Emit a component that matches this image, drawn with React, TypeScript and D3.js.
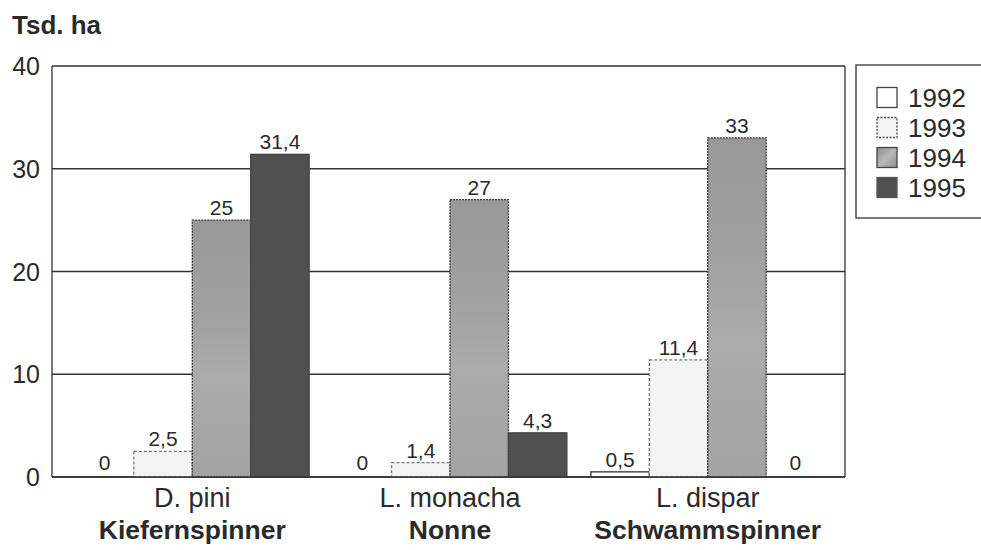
import React from "react";
import * as d3 from "d3";

const categories = ["D. pini", "L. monacha", "L. dispar"];
const commonNames = ["Kiefernspinner", "Nonne", "Schwammspinner"];
const years = ["1992", "1993", "1994", "1995"];
const values1992 = [0, 0, 0.5];
const values1993 = [2.5, 1.4, 11.4];
const values1994 = [25, 27, 33];
const values1995 = [31.4, 4.3, 0];
const labels1992 = ["0", "0", "0,5"];
const labels1993 = ["2,5", "1,4", "11,4"];
const labels1994 = ["25", "27", "33"];
const labels1995 = ["31,4", "4,3", "0"];
const yTicks = [0, 10, 20, 30, 40];
const yTitle = "Tsd. ha";

const W = 981;
const H = 550;
const FONT = "Arial, 'Liberation Sans', Helvetica, sans-serif";

export default function App() {
  const plot = { left: 52, right: 845, top: 66, bottom: 477 };
  const y = d3.scaleLinear().domain([0, 40]).range([plot.bottom, plot.top]);
  const x0 = d3
    .scaleBand<string>()
    .domain(categories)
    .range([54, 846])
    .paddingInner(0.093)
    .paddingOuter(0.083);
  const x1 = d3.scaleBand<string>().domain(years).range([0, x0.bandwidth()]);

  const series = [values1992, values1993, values1994, values1995];
  const labels = [labels1992, labels1993, labels1994, labels1995];

  const fills = ["#ffffff", "#f3f3f3", "url(#g1994)", "#505050"];
  const strokes = ["#333", "#777", "#3a3a3a", "#444"];
  const dashes = [undefined, "3 2", "2 1", undefined];

  return (
    <svg
      width={W}
      height={H}
      style={{ position: "absolute", left: 0, top: 0, background: "#fff" }}
      fontFamily={FONT}
    >
      <defs>
        <linearGradient id="g1994" x1="0" y1="0" x2="0" y2="1">
          <stop offset="0%" stopColor="#989898" />
          <stop offset="40%" stopColor="#a2a2a2" />
          <stop offset="60%" stopColor="#ababab" />
          <stop offset="100%" stopColor="#a3a3a3" />
        </linearGradient>
        <linearGradient id="g1994l" x1="0" y1="0" x2="1" y2="1">
          <stop offset="0%" stopColor="#8a8a8a" />
          <stop offset="50%" stopColor="#b8b8b8" />
          <stop offset="100%" stopColor="#909090" />
        </linearGradient>
      </defs>
      <rect x={0} y={0} width={W} height={H} fill="#fff" />

      <text x={12} y={34} fontSize={26} fontWeight="bold" fill="#2a2a2a">
        {yTitle}
      </text>

      {yTicks.map((t) => (
        <line
          key={"g" + t}
          x1={plot.left}
          x2={plot.right}
          y1={y(t)}
          y2={y(t)}
          stroke="#333"
          strokeWidth={1.3}
        />
      ))}
      <line x1={plot.left} x2={plot.left} y1={plot.top} y2={plot.bottom} stroke="#333" strokeWidth={1.3} />
      <line x1={plot.right} x2={plot.right} y1={plot.top} y2={plot.bottom} stroke="#333" strokeWidth={1.3} />

      {yTicks.map((t) => (
        <text
          key={"t" + t}
          x={40}
          y={y(t)}
          textAnchor="end"
          dominantBaseline="central"
          fontSize={25}
          fill="#2a2a2a"
        >
          {t}
        </text>
      ))}

      {categories.map((c, ci) => (
        <g key={c} transform={`translate(${x0(c)},0)`}>
          {years.map((yr, si) => {
            const v = series[si][ci];
            const bx = x1(yr)!;
            const bw = x1.bandwidth();
            const top = y(v);
            return (
              <g key={yr}>
                {v > 0 && (
                  <rect
                    x={bx}
                    y={top}
                    width={bw}
                    height={y(0) - top}
                    fill={fills[si]}
                    stroke={strokes[si]}
                    strokeWidth={1.3}
                    strokeDasharray={dashes[si]}
                  />
                )}
                <text
                  x={bx + bw / 2}
                  y={top - (v > 0 ? 5 : 7)}
                  textAnchor="middle"
                  fontSize={21}
                  fill="#2a2a2a"
                >
                  {labels[si][ci]}
                </text>
              </g>
            );
          })}
        </g>
      ))}
      <line x1={plot.left} x2={plot.right} y1={y(0)} y2={y(0)} stroke="#333" strokeWidth={1.3} />

      {categories.map((c, ci) => (
        <g key={"l" + c}>
          <text
            x={x0(c)! + x0.bandwidth() / 2}
            y={507}
            textAnchor="middle"
            fontSize={27}
            fill="#2a2a2a"
          >
            {c}
          </text>
          <text
            x={x0(c)! + x0.bandwidth() / 2}
            y={539}
            textAnchor="middle"
            fontSize={26.5}
            fontWeight="bold"
            fill="#2a2a2a"
          >
            {commonNames[ci]}
          </text>
        </g>
      ))}

      <rect x={856} y={65} width={140} height={153} fill="#fff" stroke="#333" strokeWidth={1.3} />
      {years.map((yr, i) => {
        const cy = 97.5 + i * 30;
        return (
          <g key={"lg" + yr}>
            <rect
              x={877}
              y={cy - 10}
              width={20}
              height={20}
              fill={i === 2 ? "url(#g1994l)" : fills[i]}
              stroke={i === 3 ? "#555" : "#444"}
              strokeWidth={1.3}
              strokeDasharray={i === 1 ? "2 1.5" : undefined}
            />
            <text x={908} y={cy} dominantBaseline="central" fontSize={26} fill="#2a2a2a">
              {yr}
            </text>
          </g>
        );
      })}
    </svg>
  );
}
